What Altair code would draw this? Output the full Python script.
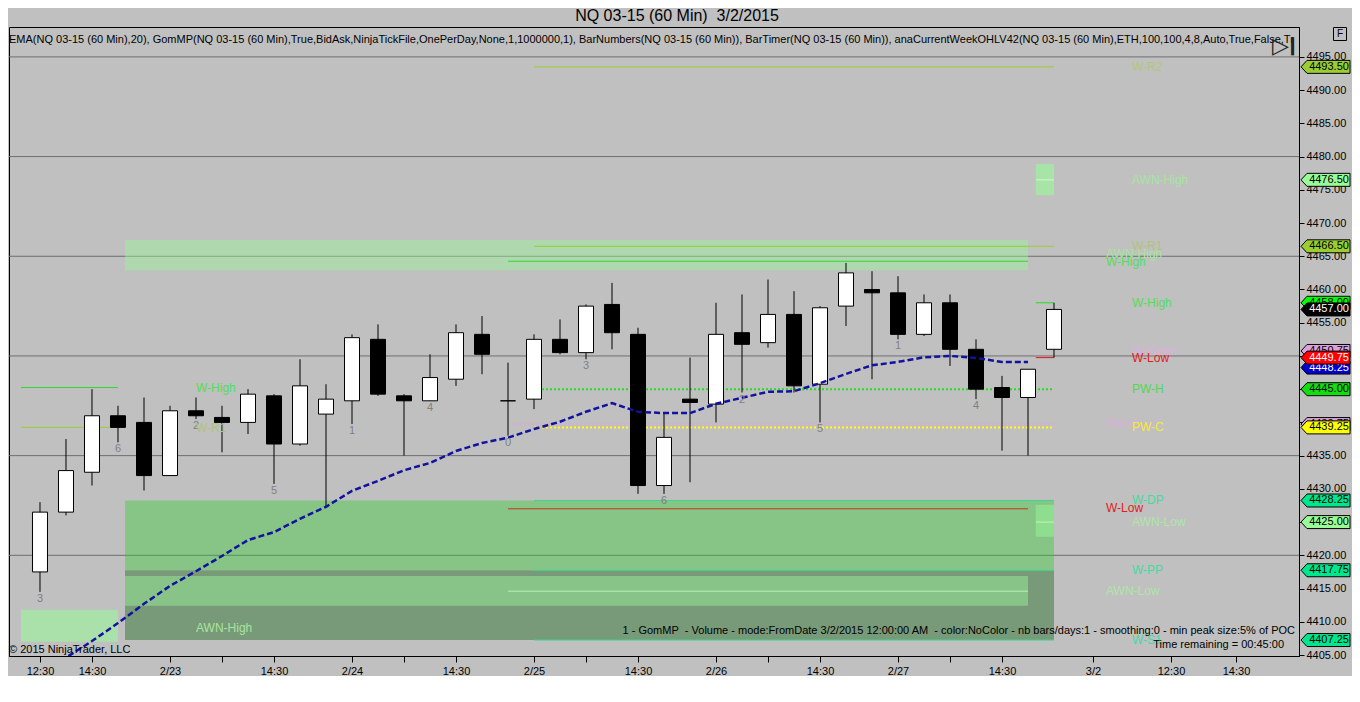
import altair as alt
import pandas as pd

# ------------------------------------------------------------------ data
TITLE = "NQ 03-15 (60 Min)\u00a0\u00a03/2/2015"
INDICATORS = ("EMA(NQ 03-15 (60 Min),20), GomMP(NQ 03-15 (60 Min),True,BidAsk,NinjaTickFile,OnePerDay,None,1,1000000,1), "
              "BarNumbers(NQ 03-15 (60 Min)), BarTimer(NQ 03-15 (60 Min)), "
              "anaCurrentWeekOHLV42(NQ 03-15 (60 Min),ETH,100,100,4,8,Auto,True,False,Tr")
GOM_TEXT = ("1 - GomMP\u00a0 - Volume - mode:FromDate 3/2/2015 12:00:00 AM\u00a0 - color:NoColor - "
            "nb bars/days:1 - smoothing:0 - min peak size:5% of POC")
TIMER_TEXT = "Time remaining = 00:45:00"
COPYRIGHT = "\u00a9 2015 NinjaTrader, LLC"

opens = [4417.5, 4426.5, 4432.5, 4441.0, 4440.0, 4432.0, 4441.75, 4440.75, 4440.0, 4444.0,
         4436.75, 4441.25, 4443.25, 4452.5, 4444.0, 4443.25, 4446.5, 4453.25, 4443.25, 4443.5,
         4452.5, 4450.5, 4457.75, 4453.25, 4430.5, 4443.5, 4442.75, 4453.5, 4452.0, 4456.25,
         4445.75, 4457.5, 4460.0, 4459.5, 4453.25, 4458.0, 4451.0, 4445.25, 4443.75, 4451.0]
highs = [4428.0, 4437.5, 4445.0, 4442.5, 4443.75, 4442.5, 4443.75, 4442.5, 4445.0, 4444.25,
         4449.5, 4445.75, 4453.25, 4454.75, 4444.25, 4450.25, 4454.75, 4456.0, 4449.0, 4453.25,
         4455.5, 4457.75, 4461.0, 4454.25, 4441.5, 4449.75, 4458.0, 4459.25, 4461.5, 4459.75,
         4457.5, 4464.0, 4462.75, 4462.0, 4459.25, 4459.25, 4452.5, 4447.0, 4448.0, 4458.0]
lows = [4414.5, 4426.0, 4430.5, 4437.0, 4429.75, 4432.0, 4440.5, 4435.5, 4438.25, 4430.75,
        4436.5, 4427.25, 4439.75, 4444.0, 4435.0, 4443.25, 4445.5, 4447.25, 4438.0, 4442.0,
        4450.25, 4449.5, 4451.0, 4429.25, 4429.25, 4431.0, 4440.0, 4444.5, 4451.25, 4444.5,
        4440.0, 4454.5, 4446.5, 4452.5, 4453.0, 4448.5, 4443.5, 4435.75, 4435.0, 4449.75]
closes = [4426.5, 4432.75, 4441.0, 4439.25, 4432.0, 4441.75, 4441.0, 4440.0, 4444.25, 4436.75,
          4445.5, 4443.5, 4452.75, 4444.25, 4443.25, 4446.75, 4453.5, 4450.25, 4443.25, 4452.5,
          4450.5, 4457.5, 4453.5, 4430.5, 4437.75, 4443.0, 4453.25, 4451.75, 4456.25, 4445.5,
          4457.25, 4462.5, 4459.5, 4453.25, 4458.0, 4451.0, 4445.0, 4443.75, 4448.0, 4457.0]
ema20 = [4401.5, 4404.6, 4407.1, 4409.8, 4412.7, 4415.4, 4417.6, 4419.9, 4422.3, 4423.5,
         4425.5, 4427.3, 4429.7, 4431.2, 4432.8, 4433.9, 4435.7, 4436.9, 4437.7, 4439.0,
         4440.1, 4441.6, 4442.9, 4441.6, 4441.4, 4441.4, 4442.8, 4443.7, 4444.6, 4444.7,
         4445.9, 4447.3, 4448.6, 4449.1, 4449.8, 4450.0, 4449.7, 4449.1, 4449.1]

barnum_idx = [0, 3, 6, 9, 12, 15, 18, 21, 24, 27, 30, 33, 36]
barnum_txt = ["3", "6", "2", "5", "1", "4", "0", "3", "6", "2", "5", "1", "4"]

grid_prices = [4420, 4435, 4450, 4465, 4480, 4495]
y_ticks = [4405, 4410, 4415, 4420, 4425, 4430, 4435, 4440, 4445, 4450,
           4455, 4460, 4465, 4470, 4475, 4480, 4485, 4490, 4495]

xtick_pos = [0, 2, 5, 7, 9, 12, 14, 16, 19, 21, 23, 26, 28, 30, 33, 35, 37, 40.5, 43.5, 46.0]
xtick_lbl = ["12:30", "14:30", "2/23", "", "14:30", "2/24", "", "14:30", "2/25", "", "14:30",
             "2/26", "", "14:30", "2/27", "", "14:30", "3/2", "12:30", "14:30"]

# weekly levels: solid segments (bar-index range)
seg_key = ["W-R2", "W-R1", "W-High prior", "W-High", "W-Low", "W-Low prior", "PW-High left",
           "W-R1 left", "W-DP", "W-PP", "W-S1", "AWN-Low mid", "AWN-High mid r", "AWN-Low mid r"]
seg_price = [4493.5, 4466.5, 4464.25, 4458.0, 4449.75, 4427.0, 4445.25,
             4439.25, 4428.25, 4417.75, 4407.25, 4414.6, 4476.5, 4425.0]
seg_x0 = [19, 19, 18, 38.3, 38.3, 18, -0.73, -0.73, 19, 19, 19, 18, 38.3, 38.3]
seg_x1 = [39, 39, 38, 39, 39, 38, 3, 3, 39, 39, 39, 38, 39, 39]

# dotted levels
dot_key = ["PW-O", "PW-H", "PW-C"]
dot_price = [4439.75, 4445.0, 4439.25]
dot_x0 = [18, 19, 19]
dot_x1 = [39, 39, 39]

# shaded zones
box_key = ["AWN-High prior", "Weekly zone", "Lower zone", "Lower band", "AWN-High", "AWN-Low", "AWN left"]
box_x0 = [3.27, 3.27, 3.27, 3.27, 38.3, 38.3, -0.73]
box_x1 = [38, 39, 39, 38, 39, 39, 3]
box_p0 = [4462.9, 4417.75, 4407.25, 4412.4, 4474.2, 4422.8, 4407.0]
box_p1 = [4467.45, 4428.25, 4417.75, 4416.9, 4478.9, 4427.6, 4411.8]

# level name labels
lbl_txt = ["W-R2", "AWN-High", "W-R1", "AWN-High", "W-High", "W-High", "W-Open", "W-Low", "PW-H",
           "PW-Open", "PW-C", "W-DP", "W-Low", "AWN-Low", "W-PP", "AWN-Low", "W-S1",
           "W-High", "W-R1", "AWN-High"]
lbl_x = [42, 42, 42, 41, 41, 42, 42, 42, 42, 41, 42, 42, 41, 42, 42, 41, 42, 6, 6, 6]
lbl_price = [4493.5, 4476.5, 4466.5, 4465.3, 4464.2, 4458.0, 4450.75, 4449.75, 4445.0,
             4439.75, 4439.25, 4428.25, 4427.1, 4425.0, 4417.75, 4414.6, 4407.25,
             4445.2, 4439.2, 4409.0]

# price flags on the axis (drawing order)
flag_key = ["W-R2", "AWN-High", "W-R1", "W-High", "W-Open", "EMA", "W-Low", "PW-H", "PW-Open",
            "PW-C", "W-DP", "AWN-Low", "W-PP", "W-S1", "Last"]
flag_price = [4493.5, 4476.5, 4466.5, 4458.0, 4450.75, 4448.25, 4449.75, 4445.0, 4439.75,
              4439.25, 4428.25, 4425.0, 4417.75, 4407.25, 4457.0]

# ------------------------------------------------------------------ styles
FONT = "Liberation Sans"
BG = "#c0c0c0"
SEG_COLOR = {"W-R2": "#9acd32", "W-R1": "#9acd32", "W-High prior": "#2edc2e", "W-High": "#22e022",
             "W-Low": "#ee1111", "W-Low prior": "#c8321e", "PW-High left": "#30d830",
             "W-R1 left": "#9acd32", "W-DP": "#3cd890", "W-PP": "#3cd890", "W-S1": "#3cd890",
             "AWN-Low mid": "#b8f0b8", "AWN-High mid r": "#d4f6cc", "AWN-Low mid r": "#c4f2bc"}
DOT_COLOR = {"PW-O": "#d8a8d8", "PW-H": "#22dd22", "PW-C": "#ffff00"}
BOX_STYLE = {"AWN-High prior": ("#98fb98", 0.42), "Weekly zone": ("#32cd32", 0.40),
             "Lower zone": ("#789a78", 1.0), "Lower band": ("#88c488", 1.0),
             "AWN-High": ("#98fb98", 0.6), "AWN-Low": ("#98fb98", 0.45), "AWN left": ("#98fb98", 0.55)}
LABEL_COLOR = {"W-R2": "#b2c878", "AWN-High": "#a8e4a0", "W-R1": "#b2c27c", "W-High": "#55dd55",
               "W-Open": "#dcb0dc", "W-Low": "#e02020", "PW-H": "#50d850", "PW-Open": "#d8b0d8",
               "PW-C": "#eeee30", "W-DP": "#48d8a0", "AWN-Low": "#b0e4a8", "W-PP": "#48d8a0",
               "W-S1": "#48d8a0"}
FLAG_FILL = {"W-R2": "#9acd32", "AWN-High": "#98fb98", "W-R1": "#9acd32", "W-High": "#00ff00",
             "W-Open": "#dda0dd", "EMA": "#0000cd", "W-Low": "#ff0000", "PW-H": "#11dd11",
             "PW-Open": "#dda0dd", "PW-C": "#ffff00", "W-DP": "#00e68c", "AWN-Low": "#98fb98",
             "W-PP": "#00e68c", "W-S1": "#00e68c", "Last": "#000000"}
FLAG_TEXT = {k: "black" for k in FLAG_FILL}
FLAG_TEXT.update({"EMA": "white", "W-Low": "white", "Last": "white"})
FLAG_PATH = "M -1 0 L -0.755 -0.265 L 1 -0.265 L 1 0.265 L -0.755 0.265 Z"

W, H = 1290, 629
xs = alt.Scale(domain=[-1.1923, 48.423], nice=False, zero=False, padding=0)
ys = alt.Scale(domain=[4404.85, 4499.5], nice=False, zero=False, padding=0)

pos_js = ",".join(repr(v) for v in xtick_pos)
lab_js = ",".join("'" + s + "'" for s in xtick_lbl)
x_axis = alt.Axis(values=xtick_pos, labelExpr=f"[{lab_js}][indexof([{pos_js}], datum.value)]",
                  title=None, grid=False, tickSize=6, tickColor="black", domainColor="black",
                  labelColor="black", labelFont=FONT, labelFontSize=11, labelPadding=3,
                  labelFlush=False, labelOverlap=False)
y_axis = alt.Axis(orient="right", values=y_ticks, format=".2f", title=None, grid=False,
                  tickSize=5, tickColor="black", domainColor="black", labelColor="black",
                  labelFont=FONT, labelFontSize=11, labelPadding=2, labelOverlap=False)


def X(f):
    return alt.X(f, type="quantitative", scale=xs, axis=x_axis)


def Y(f):
    return alt.Y(f, type="quantitative", scale=ys, axis=y_axis)


# ------------------------------------------------------------------ frames
candles = pd.DataFrame({"i": list(range(len(opens))), "open": opens, "high": highs,
                        "low": lows, "close": closes})
ema_df = pd.DataFrame({"i": list(range(len(ema20))), "ema": ema20})
bn_df = pd.DataFrame({"i": barnum_idx, "txt": barnum_txt, "low": [lows[k] for k in barnum_idx]})
grid_df = pd.DataFrame({"p": grid_prices})
seg_df = pd.DataFrame({"key": seg_key, "p": seg_price, "x0": seg_x0, "x1": seg_x1})
seg_df["col"] = seg_df["key"].map(SEG_COLOR)
dot_df = pd.DataFrame({"key": dot_key, "p": dot_price, "x0": dot_x0, "x1": dot_x1})
dot_df["col"] = dot_df["key"].map(DOT_COLOR)
box_df = pd.DataFrame({"key": box_key, "x0": box_x0, "x1": box_x1, "p0": box_p0, "p1": box_p1})
box_df["col"] = box_df["key"].map(lambda k: BOX_STYLE[k][0])
box_df["op"] = box_df["key"].map(lambda k: BOX_STYLE[k][1])
lbl_df = pd.DataFrame({"t": lbl_txt, "x": lbl_x, "p": lbl_price})
lbl_df["col"] = lbl_df["t"].map(LABEL_COLOR)
flag_df = pd.DataFrame({"key": flag_key, "price": flag_price})
flag_df["fill"] = flag_df["key"].map(FLAG_FILL)
flag_df["tcol"] = flag_df["key"].map(FLAG_TEXT)

layers = []
layers.append(alt.Chart(grid_df).mark_rule(color="#6e6e6e", strokeWidth=1).encode(y=Y("p")))
layers.append(alt.Chart(box_df).mark_rect().encode(
    x=X("x0"), x2="x1", y=Y("p0"), y2="p1",
    fill=alt.Fill("col:N", scale=None), opacity=alt.Opacity("op:Q", scale=None)))
layers.append(alt.Chart(seg_df).mark_rule(strokeWidth=1).encode(
    x=X("x0"), x2="x1", y=Y("p"), color=alt.Color("col:N", scale=None)))
layers.append(alt.Chart(dot_df).mark_rule(strokeWidth=2, strokeDash=[2, 2]).encode(
    x=X("x0"), x2="x1", y=Y("p"), color=alt.Color("col:N", scale=None)))
layers.append(alt.Chart(candles).mark_rule(color="black", strokeWidth=1).encode(
    x=X("i"), y=Y("low"), y2="high"))
layers.append(alt.Chart(candles).mark_bar(size=15, stroke="black", strokeWidth=1, opacity=1).encode(
    x=X("i"), y=Y("open"), y2="close",
    fill=alt.condition("datum.close >= datum.open", alt.value("white"), alt.value("black"))))
layers.append(alt.Chart(ema_df).mark_line(color="#12129e", strokeWidth=2.5, strokeDash=[6, 3],
                                          clip=True).encode(x=X("i"), y=Y("ema")))
layers.append(alt.Chart(bn_df).mark_text(baseline="top", dy=1, fontSize=11, font=FONT,
                                         color="#808080").encode(x=X("i"), y=Y("low"), text="txt:N"))
layers.append(alt.Chart(lbl_df).mark_text(align="left", baseline="middle", fontSize=12, font=FONT).encode(
    x=X("x"), y=Y("p"), text="t:N", color=alt.Color("col:N", scale=None)))

for k in range(len(flag_df)):
    sub = flag_df.iloc[[k]]
    layers.append(alt.Chart(sub).mark_point(shape=FLAG_PATH, size=2401, filled=True, stroke="black",
                                            strokeWidth=1, opacity=1).encode(
        x=alt.value(1316.5), y=Y("price"), fill=alt.Fill("fill:N", scale=None)))
    layers.append(alt.Chart(sub).mark_text(align="center", baseline="middle", fontSize=11, font=FONT).encode(
        x=alt.value(1320), y=Y("price"), text=alt.Text("price:Q", format=".2f"),
        color=alt.Color("tcol:N", scale=None)))


def note(text, x, y, align="left", size=11, baseline="middle", color="black"):
    return alt.Chart(pd.DataFrame({"t": [text]})).mark_text(
        align=align, baseline=baseline, fontSize=size, font=FONT, color=color).encode(
        x=alt.value(x), y=alt.value(y), text="t:N")


layers.append(note(TITLE, 668, -19, align="center", size=16, baseline="top"))
layers.append(note(INDICATORS, 0, 13))
layers.append(note(COPYRIGHT, 0, 623))
layers.append(note(GOM_TEXT, 1286, 604, align="right"))
layers.append(note(TIMER_TEXT, 1275, 618, align="right"))
layers.append(note("\u25b7", 1271, 19, align="center", size=22, color="#222222"))
layers.append(note("\u2759", 1283, 19, align="center", size=18, color="#222222"))
layers.append(alt.Chart(pd.DataFrame({"t": ["F"]})).mark_point(
    shape="square", size=169, filled=False, stroke="black", strokeWidth=1, opacity=1).encode(
    x=alt.value(1331), y=alt.value(7)))
layers.append(note("F", 1331, 7, align="center", size=10))

chart = alt.layer(*layers).properties(
    width=W, height=H, padding=0, background=BG
).configure_view(stroke="black", strokeWidth=1)

chart.save("out.html", embed_options={"renderer": "svg", "actions": False})
